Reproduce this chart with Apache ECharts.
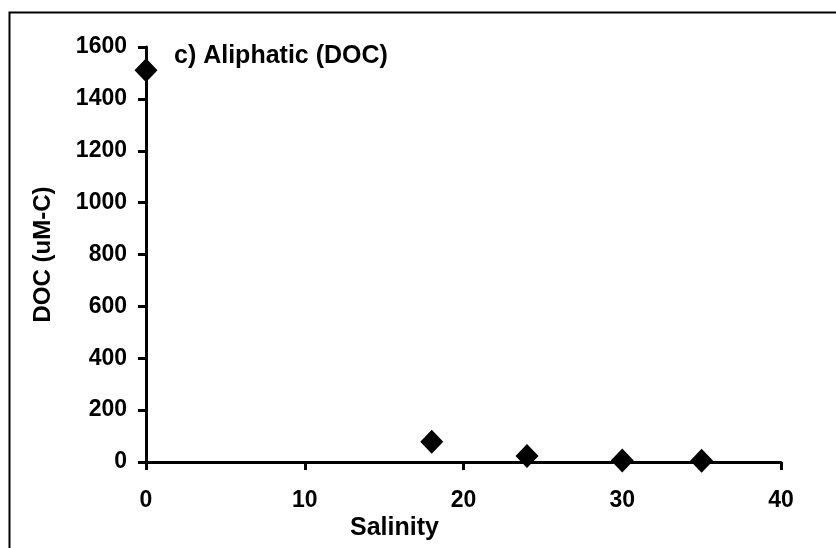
<!DOCTYPE html>
<html>
<head>
<meta charset="utf-8">
<script src="https://cdn.jsdelivr.net/npm/echarts@6/dist/echarts.min.js"></script>
<style>
html,body{margin:0;padding:0;background:#fff;}
#c{width:836px;height:548px;}
</style>
</head>
<body>
<div id="c"></div>
<script>
var salinity = [0, 18, 24, 30, 35];
var doc = [1510, 78, 23, 6, 5];
var chartTitle = 'c) Aliphatic (DOC)';
var xName = 'Salinity';
var yName = 'DOC (uM-C)';

var font = '"Liberation Sans", Arial, Helvetica, sans-serif';
var chart = echarts.init(document.getElementById('c'), null, {renderer: 'canvas'});
var pts = salinity.map(function (s, i) { return [s, doc[i]]; });

chart.setOption({
  animation: false,
  backgroundColor: '#fff',
  graphic: [
    {type: 'rect', left: 7, top: 10, shape: {width: 840, height: 560},
     style: {fill: 'none', stroke: '#000', lineWidth: 2}, silent: true},
    {type: 'text', left: 350, top: 516,
     style: {text: xName, font: 'bold 25px ' + font, fill: '#000'}}
  ],
  title: {
    text: chartTitle, left: 174, top: 44, padding: 0,
    textStyle: {fontFamily: font, fontWeight: 'bold', fontSize: 25, color: '#000'}
  },
  grid: {left: 146, right: 55, top: 47, bottom: 86, containLabel: false},
  xAxis: {
    type: 'value', min: 0, max: 40, interval: 10,
    axisLine: {show: true, onZero: false, lineStyle: {color: '#000', width: 3}},
    axisTick: {show: true, length: 8, lineStyle: {color: '#000', width: 3}},
    axisLabel: {margin: 27, color: '#000', fontFamily: font, fontWeight: 'bold', fontSize: 23},
    splitLine: {show: false}
  },
  yAxis: {
    type: 'value', min: 0, max: 1600, interval: 200,
    name: yName, nameLocation: 'middle', nameGap: 91, nameRotate: 90,
    nameTextStyle: {color: '#000', fontFamily: font, fontWeight: 'bold', fontSize: 24},
    axisLine: {show: true, onZero: false, lineStyle: {color: '#000', width: 3}},
    axisTick: {show: true, length: 8, lineStyle: {color: '#000', width: 3}},
    axisLabel: {margin: 19, color: '#000', fontFamily: font, fontWeight: 'bold', fontSize: 23,
      formatter: function (v) { return String(v); }},
    splitLine: {show: false}
  },
  series: [{
    type: 'scatter', data: pts, symbol: 'diamond', symbolSize: [23, 24],
    itemStyle: {color: '#000', opacity: 1}, emphasis: {disabled: true}, clip: false
  }]
});
</script>
</body>
</html>
